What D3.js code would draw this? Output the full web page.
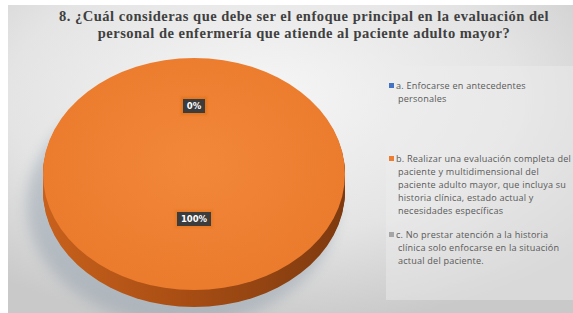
<!DOCTYPE html>
<html>
<head>
<meta charset="utf-8">
<script src="https://cdn.jsdelivr.net/npm/d3@7"></script>
<style>
  body { margin: 0; background: #fff; }
  svg { display: block; }
</style>
</head>
<body>
<svg id="chart" width="573" height="313"></svg>
<script>
// data
var categories = [
  "a. Enfocarse en antecedentes personales",
  "b. Realizar una evaluación completa del paciente y multidimensional del paciente adulto mayor, que incluya su historia clínica, estado actual y necesidades específicas",
  "c. No prestar atención a la historia clínica solo enfocarse en la situación actual del paciente."
];
var values = [0, 100, 0];
var colors = ["#4472C4", "#ED7D31", "#A5A5A5"];
var legendLines = [
  ["a. Enfocarse en antecedentes", "personales"],
  ["b. Realizar una evaluación completa del", "paciente y multidimensional del", "paciente adulto mayor, que incluya su", "historia clínica, estado actual y", "necesidades específicas"],
  ["c. No prestar atención a la historia", "clínica solo enfocarse en la situación", "actual del paciente."]
];
var titleLines = [
  "8. ¿Cuál consideras que debe ser el enfoque principal en la evaluación del",
  "personal de enfermería que atiende al paciente adulto mayor?"
];

var svg = d3.select("#chart");
var defs = svg.append("defs");

// background
var bg = defs.append("radialGradient").attr("id", "bg")
  .attr("cx", "45%").attr("cy", "30%").attr("r", "75%");
bg.append("stop").attr("offset", "0%").attr("stop-color", "#f6f6f6");
bg.append("stop").attr("offset", "60%").attr("stop-color", "#e4e4e4");
bg.append("stop").attr("offset", "100%").attr("stop-color", "#c9c9c9");

var side = defs.append("linearGradient").attr("id", "side")
  .attr("x1", "0").attr("x2", "1").attr("y1", "0").attr("y2", "0");
side.append("stop").attr("offset", "0%").attr("stop-color", "#c8611c");
side.append("stop").attr("offset", "45%").attr("stop-color", "#a94e14");
side.append("stop").attr("offset", "100%").attr("stop-color", "#7e3a0f");

var topg = defs.append("radialGradient").attr("id", "topg")
  .attr("cx", "50%").attr("cy", "45%").attr("r", "60%");
topg.append("stop").attr("offset", "0%").attr("stop-color", "#f2873a");
topg.append("stop").attr("offset", "100%").attr("stop-color", "#ea7a2c");

defs.append("filter").attr("id", "blur")
  .attr("x", "-20%").attr("y", "-20%").attr("width", "140%").attr("height", "140%")
  .append("feGaussianBlur").attr("stdDeviation", 7);

defs.append("filter").attr("id", "lblur")
  .append("feGaussianBlur").attr("stdDeviation", 1.2);

svg.append("rect").attr("x", 8).attr("y", 5).attr("width", 565).attr("height", 308)
  .attr("fill", "url(#bg)");

// legend panel
svg.append("rect").attr("x", 386).attr("y", 66).attr("width", 187).attr("height", 234)
  .attr("fill", "#eeeeee").attr("opacity", 0.45);

// title
svg.append("g").selectAll("text").data(titleLines).join("text")
  .attr("x", 304).attr("y", function(d, i) { return 21 + i * 17; })
  .attr("text-anchor", "middle")
  .attr("font-family", "Liberation Serif, Times New Roman, serif")
  .attr("font-weight", "bold").attr("font-size", "14.5px")
  .attr("letter-spacing", "0.5px")
  .attr("fill", "#404040")
  .text(function(d) { return d; });

// pie
var cx = 194, cy = 174, rx = 151, ry = 116, depth = 17;
var pie = d3.pie().sort(null).startAngle(0).endAngle(2 * Math.PI);
var arcs = pie(values);
var arc = d3.arc().innerRadius(0).outerRadius(rx);
var labelArc = d3.arc().innerRadius(rx * 0.5).outerRadius(rx * 0.5);

var pieG = svg.append("g").attr("transform", "translate(" + cx + "," + cy + ")");

// shadow
pieG.append("ellipse").attr("cx", -12).attr("cy", depth + 14)
  .attr("rx", rx + 4).attr("ry", ry + 4)
  .attr("fill", "#8a9aa8").attr("opacity", 0.45).attr("filter", "url(#blur)");

// side walls: stack of arcs shifted down
var layers = d3.range(depth, 0, -1);
layers.forEach(function(dy) {
  pieG.append("g")
    .attr("transform", "translate(0," + dy + ") scale(1," + (ry / rx) + ")")
    .selectAll("path").data(arcs).join("path")
    .attr("d", arc)
    .attr("fill", "url(#side)")
    .attr("stroke", "none");
});

// top face
pieG.append("g")
  .attr("transform", "scale(1," + (ry / rx) + ")")
  .selectAll("path").data(arcs).join("path")
  .attr("d", arc)
  .attr("fill", function(d, i) { return i == 1 ? "url(#topg)" : colors[i]; })
  .attr("stroke", "none");

// data labels
var labels = pieG.append("g").selectAll("g.lbl").data(arcs).join("g")
  .attr("class", "lbl")
  .attr("transform", function(d) {
    var c = labelArc.centroid(d);
    var yoff = d.data == 0 ? -10 : -13;
    return "translate(" + c[0] + "," + (c[1] * ry / rx + yoff) + ")";
  });
labels.append("rect")
  .attr("x", function(d) { return d.data == 0 ? -13 : -19; })
  .attr("y", -9)
  .attr("width", function(d) { return d.data == 0 ? 26 : 38; })
  .attr("height", 18)
  .attr("fill", "#e2741f").attr("opacity", 0.6).attr("filter", "url(#lblur)");
labels.append("rect")
  .attr("x", function(d) { return d.data == 0 ? -11 : -17; })
  .attr("y", -7)
  .attr("width", function(d) { return d.data == 0 ? 22 : 34; })
  .attr("height", 14)
  .attr("fill", "#3c3c3c");
labels.append("text")
  .attr("text-anchor", "middle").attr("dy", "0.35em")
  .attr("font-family", "DejaVu Sans, sans-serif")
  .attr("font-weight", "bold").attr("font-size", "8.5px")
  .attr("fill", "#ffffff")
  .text(function(d) { return Math.round(d.data / d3.sum(values) * 100) + "%"; });

// legend
var legendY = [89, 162, 238];
var leg = svg.append("g").selectAll("g").data(categories).join("g")
  .attr("transform", function(d, i) { return "translate(389," + legendY[i] + ")"; });
leg.append("rect").attr("x", 0).attr("y", -6).attr("width", 5).attr("height", 5)
  .attr("fill", function(d, i) { return colors[i]; });
leg.append("text")
  .attr("font-family", "Open Sans, Liberation Sans, sans-serif")
  .attr("font-size", "9.1px").attr("fill", "#595959")
  .attr("letter-spacing", "0.2px")
  .selectAll("tspan").data(function(d, i) { return legendLines[i]; }).join("tspan")
  .attr("x", function(d, i) { return i == 0 ? 7 : 9; })
  .attr("y", function(d, i) { return i * 13; })
  .text(function(d) { return d; });
</script>
</body>
</html>
